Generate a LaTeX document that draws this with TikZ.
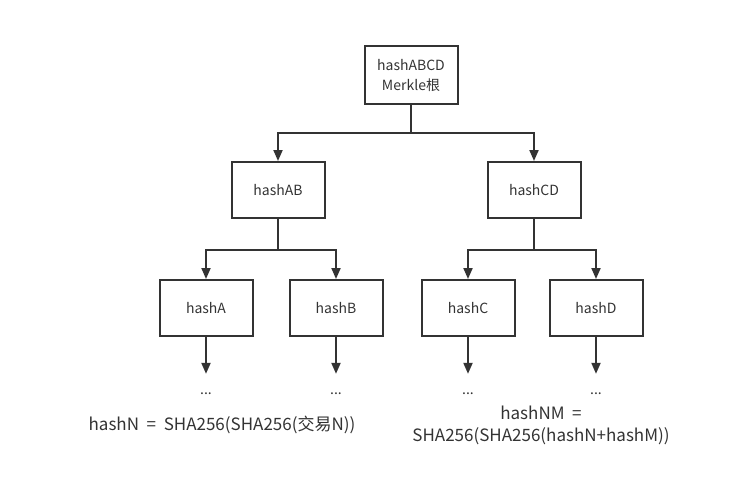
\documentclass[tikz,border=0pt]{standalone}
\usepackage{fontspec}
\setmainfont{Noto Sans CJK SC}
\usetikzlibrary{arrows.meta}
\definecolor{inkgray}{HTML}{333333}
\begin{document}
\begin{tikzpicture}[x=1pt,y=-1pt,
  hashbox/.style={draw=inkgray,line width=2pt,minimum width=93pt,minimum height=56pt,
    inner sep=2pt,align=center,text=inkgray,font=\fontsize{14}{20}\selectfont},
  dots/.style={inner sep=0pt,text=inkgray,font=\fontsize{14}{15}\selectfont},
  formula/.style={align=center,text=inkgray,font=\fontsize{17}{22}\selectfont},
  link/.style={draw=inkgray,line width=2pt,-{Triangle[length=11pt,width=9pt]}}]
\useasboundingbox (0,0) rectangle (742,495);

% tree of hashes
\node[hashbox,minimum height=58pt] (abcd) at (411,75) {hashABCD\\Merkle根};
\node[hashbox] (ab) at (278,190) {hashAB};
\node[hashbox] (cd) at (534,190) {hashCD};
\node[hashbox] (a) at (206,308) {hashA};
\node[hashbox] (b) at (336,308) {hashB};
\node[hashbox] (c) at (468,308) {hashC};
\node[hashbox] (d) at (596,308) {hashD};

\draw[link] (abcd.south) -- ++(0,28) -| (ab.north);
\draw[link] (abcd.south) -- ++(0,28) -| (cd.north);
\draw[link] (ab.south) -- ++(0,31) -| (a.north);
\draw[link] (ab.south) -- ++(0,31) -| (b.north);
\draw[link] (cd.south) -- ++(0,31) -| (c.north);
\draw[link] (cd.south) -- ++(0,31) -| (d.north);

% leaves
\foreach \leaf/\x in {a/206,b/336,c/468,d/596}{
  \node[dots] (dot\leaf) at (\x,394) {...};
  \draw[link,shorten >=19pt] (\leaf.south) -- (dot\leaf.north);
}

% formulas
\node[formula] (fleaf) at (222,425) {hashN\ \ =\ \ SHA256(SHA256(交易N))};
\node[formula] (fnode) at (541,425) {hashNM\ \ =\\SHA256(SHA256(hashN+hashM))};
\end{tikzpicture}
\end{document}
